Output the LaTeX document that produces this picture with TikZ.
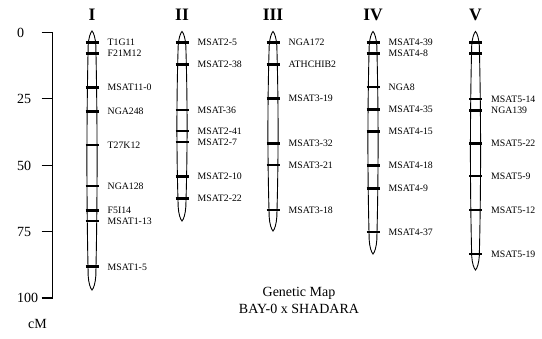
\documentclass[tikz,border=0pt]{standalone}
\usepackage{fontspec}
\setmainfont{Liberation Serif}
\newcommand{\drawchrom}[3]{%
 \draw[chrom] (#1,#2) .. controls ({#1+1.6},{#2+1.5}) and ({#1+3.4},{#2+7}) .. ({#1+3.8},{#2+14})
   .. controls ({#1+5.5},{#2+0.35*(#3-#2)}) and ({#1+5.5},{#3-0.35*(#3-#2)}) .. ({#1+3.8},{#3-14})
   .. controls ({#1+3.4},{#3-7}) and ({#1+1.6},{#3-1.5}) .. (#1,#3)
   .. controls ({#1-1.6},{#3-1.5}) and ({#1-3.4},{#3-7}) .. ({#1-3.8},{#3-14})
   .. controls ({#1-5.5},{#3-0.35*(#3-#2)}) and ({#1-5.5},{#2+0.35*(#3-#2)}) .. ({#1-3.8},{#2+14})
   .. controls ({#1-3.4},{#2+7}) and ({#1-1.6},{#2+1.5}) .. cycle;}
\newcommand{\mk}[4]{% x, y, name, label
 \draw[mbar] ({#1-6.5},#2) -- ({#1+6.5},#2);
 \node[mlabel] (#3) at ({#1+15.5},{#2+3.3}) {#4};}
\newcommand{\mkb}[2]{\draw[mbar] ({#1-6.5},#2) -- ({#1+6.5},#2);}
\begin{document}
\begin{tikzpicture}[x=1bp,y=-1bp,
  chrom/.style={draw=black, line width=0.9bp, fill=white},
  mbar/.style={line width=2.8bp, black},
  mlabel/.style={anchor=base west, font=\fontsize{9.8bp}{10bp}\selectfont, inner sep=0pt},
  ctitle/.style={anchor=base, font=\fontsize{17.5bp}{18bp}\selectfont\bfseries, inner sep=0pt},
  axlabel/.style={anchor=base west, font=\fontsize{14bp}{14bp}\selectfont, inner sep=0pt},
  axline/.style={line width=1.1bp, black},
  caption/.style={font=\fontsize{14bp}{17.5bp}\selectfont, align=center, inner sep=0pt}]
\useasboundingbox (0,0) rectangle (542,338);
% axis
\coordinate (ax0) at (52.7,32.5);
\coordinate (ax100) at (52.7,298);
\draw[axline] (ax0) -- (ax100);
\foreach \v/\y in {0/32.5,25/98.9,50/165.3,75/231.6,100/298}{
  \draw[axline] (41.7,\y) -- (52.7,\y);
  \node[axlabel] (ax-\v) at (17,{\y+4.7}) {\v};
}
\node[axlabel] (cm) at (28,328) {cM};
% titles
\node[ctitle] (t1) at (92,20) {I};
\node[ctitle] (t2) at (182,20) {II};
\node[ctitle] (t3) at (273,20) {III};
\node[ctitle] (t4) at (373,20) {IV};
\node[ctitle] (t5) at (475.5,20) {V};
% chromosome I
\drawchrom{92}{31}{290}
\mk{92}{42.3}{m11}{T1G11}
\mk{92}{53.3}{m12}{F21M12}
\mk{92}{87.3}{m13}{MSAT11-0}
\mk{92}{111.5}{m14}{NGA248}
\mk{92}{145}{m15}{T27K12}
\mk{92}{186}{m16}{NGA128}
\mk{92}{210.3}{m17}{F5I14}
\mk{92}{221}{m18}{MSAT1-13}
\mk{92}{266.7}{m19}{MSAT1-5}
% chromosome II
\drawchrom{182}{31.5}{221}
\mk{182}{42.5}{m21}{MSAT2-5}
\mk{182}{64.5}{m22}{MSAT2-38}
\mk{182}{110}{m23}{MSAT-36}
\mk{182}{131}{m24}{MSAT2-41}
\mk{182}{142}{m25}{MSAT2-7}
\mk{182}{176.5}{m26}{MSAT2-10}
\mk{182}{198.5}{m27}{MSAT2-22}
% chromosome III
\drawchrom{273}{31.5}{231}
\mk{273}{42.5}{m31}{NGA172}
\mk{273}{64.5}{m32}{ATHCHIB2}
\mk{273}{98.3}{m33}{MSAT3-19}
\mk{273}{143.3}{m34}{MSAT3-32}
\mk{273}{165}{m35}{MSAT3-21}
\mk{273}{210}{m36}{MSAT3-18}
% chromosome IV
\drawchrom{373}{31.5}{254}
\mk{373}{42.5}{m41}{MSAT4-39}
\mk{373}{53.3}{m42}{MSAT4-8}
\mk{373}{87}{m43}{NGA8}
\mk{373}{109.5}{m44}{MSAT4-35}
\mk{373}{131.3}{m45}{MSAT4-15}
\mk{373}{165.3}{m46}{MSAT4-18}
\mk{373}{188.5}{m47}{MSAT4-9}
\mk{373}{232}{m48}{MSAT4-37}
% chromosome V
\drawchrom{475.5}{31.5}{270}
\mkb{475.5}{42.7}
\mkb{475.5}{53.3}
\mk{475.5}{99}{m51}{MSAT5-14}
\mk{475.5}{110.5}{m52}{NGA139}
\mk{475.5}{143.3}{m53}{MSAT5-22}
\mk{475.5}{176}{m54}{MSAT5-9}
\mk{475.5}{210}{m55}{MSAT5-12}
\mk{475.5}{254}{m56}{MSAT5-19}
% caption
\node[caption] (cap) at (299,300.5) {Genetic Map\\BAY-0 x SHADARA};
\end{tikzpicture}
\end{document}
